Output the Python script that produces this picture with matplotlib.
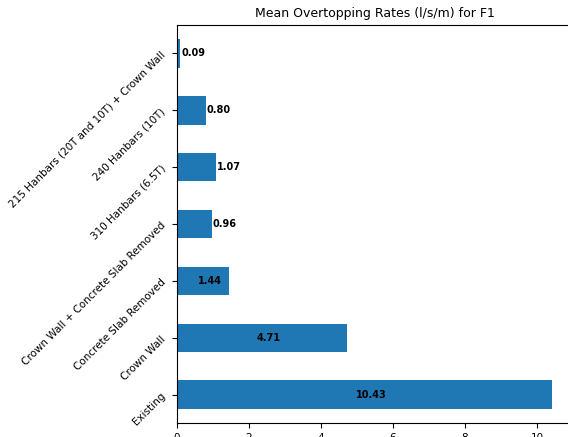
import matplotlib
matplotlib.use("Agg")
import matplotlib.pyplot as plt

categories = ["Existing", "Crown Wall", "Concrete Slab Removed",
              "Crown Wall + Concrete Slab Removed", "310 Hanbars (6.5T)",
              "240 Hanbars (10T)", "215 Hanbars (20T and 10T) + Crown Wall"]
values = [10.43, 4.71, 1.44, 0.96, 1.07, 0.80, 0.09]
title = "Mean Overtopping Rates (l/s/m) for F1"

W, H = 568, 437
fig = plt.figure(figsize=(W / 100, H / 100), dpi=100)
ax = fig.add_axes([177 / W, 1 - 423 / H, (573 - 177) / W, (423 - 25) / H])

pos = list(range(len(categories)))
ax.barh(pos, values, height=0.5, color="#1f77b4")
ax.set_ylim(-0.5, len(categories) - 0.5)
ax.set_xlim(0, 11.0)
ax.set_xticks([0, 2, 4, 6, 8, 10])
ax.set_yticks(pos)
ax.set_yticklabels(categories, rotation=45, fontsize=7.5)
ax.tick_params(axis="x", labelsize=7.5)
ax.set_title(title, fontsize=9)

for i, v in enumerate(values):
    if v > 1.2:
        ax.annotate(f"{v:.2f}", (v / 2, i), xytext=(5, 0), textcoords="offset points",
                    ha="center", va="center", fontsize=7, fontweight="bold")
    else:
        ax.annotate(f"{v:.2f}", (v, i), xytext=(0.8, 0), textcoords="offset points",
                    ha="left", va="center", fontsize=7, fontweight="bold")

fig.savefig("out.png", dpi=100)
